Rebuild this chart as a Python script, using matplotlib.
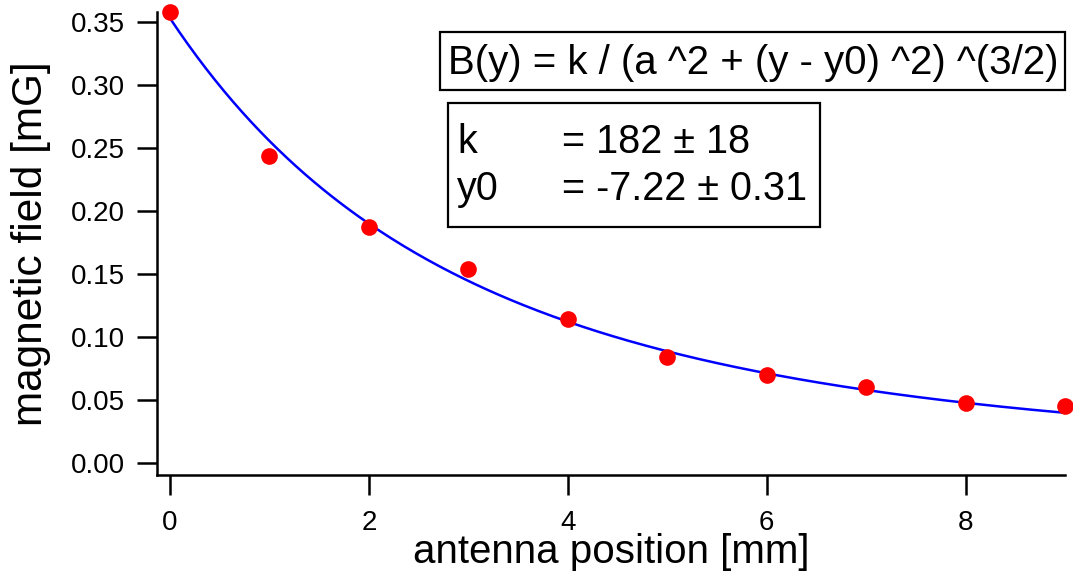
import numpy as np
import matplotlib
matplotlib.use("Agg")
import matplotlib.pyplot as plt
from matplotlib.patches import Rectangle

plt.rcParams['font.family'] = ['Liberation Sans', 'DejaVu Sans']

# measured field vs antenna position
position_mm = [0, 1, 2, 3, 4, 5, 6, 7, 8, 9]
field_mG = [0.358, 0.244, 0.187, 0.154, 0.114, 0.084, 0.070, 0.060, 0.048, 0.045]

# fit B(y) = k / (a^2 + (y - y0)^2)^(3/2)
k_fit, k_err = 182, 18
y0_fit, y0_err = -7.22, 0.31
a_fit = 3.49

yticks = [0.00, 0.05, 0.10, 0.15, 0.20, 0.25, 0.30, 0.35]
xticks = [0, 2, 4, 6, 8]

W, H = 1073, 581
fig = plt.figure(figsize=(W / 100, H / 100), dpi=100)
ax = fig.add_axes([157 / W, (H - 475) / H, 908 / W, 463 / H])

yy = np.linspace(0, 9, 300)
bfit = k_fit / (a_fit ** 2 + (yy - y0_fit) ** 2) ** 1.5
ax.plot(yy, bfit, color='#0000ff', lw=1.8, zorder=2)
ax.plot(position_mm, field_mG, 'o', color='#ff0000', ms=12, mec='none',
        clip_on=False, zorder=3)

ax.set_xlim(-0.131, 9.0)
ax.set_ylim(-0.0095, 0.3579)
ax.set_xticks(xticks)
ax.set_yticks(yticks)
ax.set_yticklabels(["%.2f" % v for v in yticks])

for s in ['top', 'right']:
    ax.spines[s].set_visible(False)
for s in ['left', 'bottom']:
    ax.spines[s].set_linewidth(1.8)
ax.tick_params(axis='both', direction='out', length=14.5, width=1.8,
               labelsize=20, colors='black')
ax.tick_params(axis='y', pad=8.5)
ax.tick_params(axis='x', pad=11)

ax.set_xlabel("antenna position [mm]", fontsize=29)
ax.xaxis.set_label_coords(0.5, -0.125)
ax.set_ylabel("magnetic field [mG]", fontsize=30.5)
ax.yaxis.set_label_coords(-0.117, 0.5)


def px_box(x0, y0, x1, y1):
    fig.add_artist(Rectangle((x0 / W, 1 - y1 / H), (x1 - x0) / W, (y1 - y0) / H,
                             transform=fig.transFigure, fill=False,
                             edgecolor='black', lw=1.6))


def px_text(x, y, s, size):
    fig.text(x / W, 1 - y / H, s, fontsize=size, ha='left', va='baseline')


# fit equation box
px_box(440, 32, 1065, 90)
px_text(448, 74, "B(y) = k / (a ^2 + (y - y0) ^2) ^(3/2)", 29)

# fit coefficients box
px_box(448, 103, 820, 227)
px_text(457, 153, "k", 28.5)
px_text(562, 153, "= %d \u00b1 %d" % (k_fit, k_err), 28.5)
px_text(457, 200, "y0", 28.5)
px_text(562, 200, "= %.2f \u00b1 %.2f" % (y0_fit, y0_err), 28.5)

fig.savefig("out.png", dpi=100)
